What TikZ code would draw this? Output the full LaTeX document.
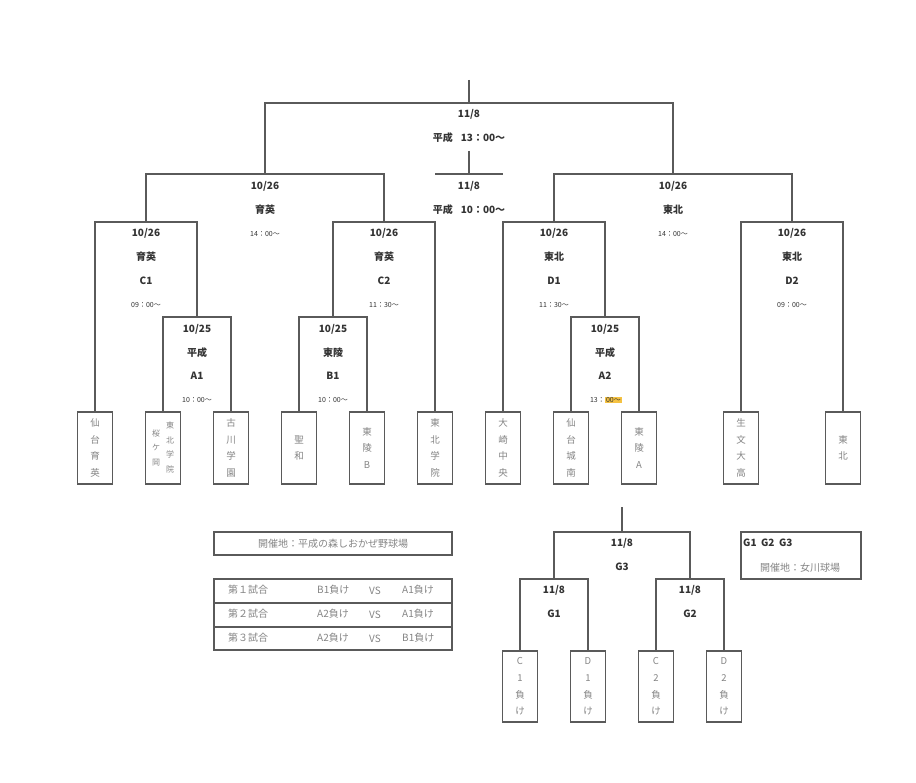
\documentclass[tikz,border=0pt]{standalone}
\usepackage{fontspec}
\setmainfont{Noto Sans CJK JP}
\definecolor{linec}{HTML}{5A5A5A}
\definecolor{txtc}{HTML}{333333}
\definecolor{leafc}{HTML}{858585}
\definecolor{hlc}{HTML}{F5C242}
\begin{document}
\begin{tikzpicture}[x=1pt,y=-1pt,
  ln/.style={draw=linec,line width=1.1pt},
  leaf/.style={draw=linec,line width=1.1pt,minimum width=35pt,minimum height=72pt,inner sep=0pt,align=center,text=leafc,font=\fontsize{9.5}{16.7}\selectfont},
  gleaf/.style={leaf,minimum height=71pt},
  lbl/.style={font=\bfseries\fontsize{10}{12}\selectfont,text=txtc,inner sep=0pt},
  tm/.style={font=\fontsize{7}{8}\selectfont,text=txtc,inner sep=0pt},
  gt/.style={font=\fontsize{10}{12}\selectfont,text=leafc,inner sep=0pt},
  small/.style={align=center,text=leafc,inner sep=0pt,font=\fontsize{8}{14.5}\selectfont}]
\useasboundingbox[fill=white] (0,0) rectangle (916,783);

% leaves
\node[leaf] (l1) at (95,448) {仙\\台\\育\\英};
\node[leaf] (l2) at (163,448) {};
\node[small] (l2a) at (170,447.5) {東\\北\\学\\院};
\node[small] (l2b) at (156,447.5) {桜\\ケ\\岡};
\node[leaf] (l3) at (231,448) {古\\川\\学\\園};
\node[leaf] (l4) at (299,448) {聖\\和};
\node[leaf] (l5) at (367,448) {東\\陵\\B};
\node[leaf] (l6) at (435,448) {東\\北\\学\\院};
\node[leaf] (l7) at (503,448) {大\\崎\\中\\央};
\node[leaf] (l8) at (571,448) {仙\\台\\城\\南};
\node[leaf] (l9) at (639,448) {東\\陵\\A};
\node[leaf] (l10) at (741,448) {生\\文\\大\\高};
\node[leaf] (l11) at (843,448) {東\\北};

% match points
\coordinate (A1) at (197,317);
\coordinate (B1) at (333,317);
\coordinate (A2) at (605,317);
\coordinate (C1) at (146,222);
\coordinate (C2) at (384,222);
\coordinate (D1) at (554,222);
\coordinate (D2) at (792,222);
\coordinate (SL) at (265,174);
\coordinate (SR) at (673,174);
\coordinate (F) at (469,103);
\coordinate (Ftop) at (469,80);
\coordinate (T) at (469,174);
\coordinate (Ttop) at (469,151);
\coordinate (TL) at (435,174);
\coordinate (TR) at (503,174);

\draw[ln] (l2.north) |- (A1) -| (l3.north);
\draw[ln] (l4.north) |- (B1) -| (l5.north);
\draw[ln] (l8.north) |- (A2) -| (l9.north);
\draw[ln] (l1.north) |- (C1) -| (A1);
\draw[ln] (B1) |- (C2) -| (l6.north);
\draw[ln] (l7.north) |- (D1) -| (A2);
\draw[ln] (l10.north) |- (D2) -| (l11.north);
\draw[ln] (C1) |- (SL) -| (C2);
\draw[ln] (D1) |- (SR) -| (D2);
\draw[ln] (SL) |- (F) -| (SR);
\draw[ln] (Ftop) -- (F);
\draw[ln] (TL) -- (TR);
\draw[ln] (Ttop) -- (T);

% labels
\node[lbl] (f1) at (469,114) {11/8};
\node[lbl] (f2) at (469,138) {平成\hspace{8pt}13：00～};
\node[lbl] (t1) at (469,186) {11/8};
\node[lbl] (t2) at (469,210) {平成\hspace{8pt}10：00～};

\node[lbl] (sl1) at (265,186) {10/26};
\node[lbl] (sl2) at (265,210) {育英};
\node[tm] (sl3) at (265,234) {14：00～};
\node[lbl] (sr1) at (673,186) {10/26};
\node[lbl] (sr2) at (673,210) {東北};
\node[tm] (sr3) at (673,234) {14：00～};

\node[lbl] (c11) at (146,233) {10/26};
\node[lbl] (c12) at (146,257) {育英};
\node[lbl] (c13) at (146,281) {C1};
\node[tm] (c14) at (146,305) {09：00～};
\node[lbl] (c21) at (384,233) {10/26};
\node[lbl] (c22) at (384,257) {育英};
\node[lbl] (c23) at (384,281) {C2};
\node[tm] (c24) at (384,305) {11：30～};
\node[lbl] (d11) at (554,233) {10/26};
\node[lbl] (d12) at (554,257) {東北};
\node[lbl] (d13) at (554,281) {D1};
\node[tm] (d14) at (554,305) {11：30～};
\node[lbl] (d21) at (792,233) {10/26};
\node[lbl] (d22) at (792,257) {東北};
\node[lbl] (d23) at (792,281) {D2};
\node[tm] (d24) at (792,305) {09：00～};

\node[lbl] (a11) at (197,329) {10/25};
\node[lbl] (a12) at (197,353) {平成};
\node[lbl] (a13) at (197,376) {A1};
\node[tm] (a14) at (197,400) {10：00～};
\node[lbl] (b11) at (333,329) {10/25};
\node[lbl] (b12) at (333,353) {東陵};
\node[lbl] (b13) at (333,376) {B1};
\node[tm] (b14) at (333,400) {10：00～};
\node[lbl] (a21) at (605,329) {10/25};
\node[lbl] (a22) at (605,353) {平成};
\node[lbl] (a23) at (605,376) {A2};
\node[tm,anchor=east] (a24) at (605,400) {13：};
\node[tm,anchor=west,fill=hlc,inner sep=0.8pt] (a25) at (605,400) {00～};

% venue + table
\node[draw=linec,line width=1.1pt,minimum width=238pt,minimum height=23pt,inner sep=0pt,gt] (venue) at (333,543.5) {開催地：平成の森しおかぜ野球場};
\node[draw=linec,line width=1.1pt,minimum width=238pt,minimum height=24pt,inner sep=0pt] (r1) at (333,591) {};
\node[draw=linec,line width=1.1pt,minimum width=238pt,minimum height=24pt,inner sep=0pt] (r2) at (333,615) {};
\node[draw=linec,line width=1.1pt,minimum width=238pt,minimum height=23pt,inner sep=0pt] (r3) at (333,638.5) {};
\node[gt,anchor=west] (r1a) at (228,590) {第１試合};
\node[gt,anchor=west] (r1b) at (317,590) {B1負け};
\node[gt] (r1c) at (375,591) {VS};
\node[gt,anchor=west] (r1d) at (402,590) {A1負け};
\node[gt,anchor=west] (r2a) at (228,614) {第２試合};
\node[gt,anchor=west] (r2b) at (317,614) {A2負け};
\node[gt] (r2c) at (375,615) {VS};
\node[gt,anchor=west] (r2d) at (402,614) {A1負け};
\node[gt,anchor=west] (r3a) at (228,638) {第３試合};
\node[gt,anchor=west] (r3b) at (317,638) {A2負け};
\node[gt] (r3c) at (375,639) {VS};
\node[gt,anchor=west] (r3d) at (402,638) {B1負け};

% G bracket
\node[gleaf] (g1) at (520,686.5) {C\\1\\負\\け};
\node[gleaf] (g2) at (588,686.5) {D\\1\\負\\け};
\node[gleaf] (g3) at (656,686.5) {C\\2\\負\\け};
\node[gleaf] (g4) at (724,686.5) {D\\2\\負\\け};
\coordinate (G1) at (554,579);
\coordinate (G2) at (690,579);
\coordinate (G3) at (622,532);
\coordinate (Gtop) at (622,507);
\draw[ln] (g1.north) |- (G1) -| (g2.north);
\draw[ln] (g3.north) |- (G2) -| (g4.north);
\draw[ln] (G1) |- (G3) -| (G2);
\draw[ln] (Gtop) -- (G3);
\node[lbl] (g31) at (622,543) {11/8};
\node[lbl] (g32) at (622,567) {G3};
\node[lbl] (g11) at (554,590) {11/8};
\node[lbl] (g12) at (554,614) {G1};
\node[lbl] (g21) at (690,590) {11/8};
\node[lbl] (g22) at (690,614) {G2};

\node[draw=linec,line width=1.1pt,minimum width=120pt,minimum height=47pt,inner sep=0pt] (gbox) at (801,555.5) {};
\node[lbl,anchor=west] (gb1) at (743,543) {G1\hspace{4.5pt}G2\hspace{4.5pt}G3};
\node[gt,anchor=west] (gb2) at (760,568) {開催地：女川球場};
\end{tikzpicture}
\end{document}
